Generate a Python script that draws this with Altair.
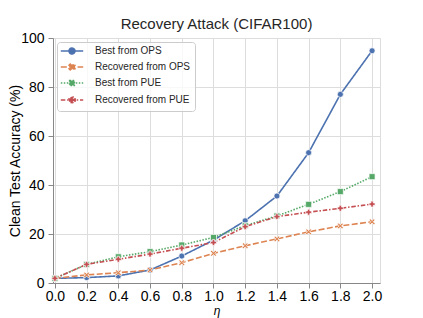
import altair as alt
import pandas as pd

eta = [0.0, 0.2, 0.4, 0.6, 0.8, 1.0, 1.2, 1.4, 1.6, 1.8, 2.0]
best_ops = [1.9, 2.2, 2.9, 5.3, 11.0, 17.5, 25.4, 35.5, 53.2, 77.0, 94.8]
rec_ops = [1.9, 3.3, 4.2, 5.3, 8.3, 12.1, 15.2, 18.0, 20.9, 23.3, 25.0]
best_pue = [1.9, 7.6, 10.7, 12.8, 15.5, 18.6, 23.4, 27.4, 32.1, 37.3, 43.4]
rec_pue = [1.9, 7.6, 9.7, 11.8, 14.2, 16.5, 23.0, 27.1, 28.9, 30.5, 32.2]

series = ["Best from OPS", "Recovered from OPS", "Best from PUE", "Recovered from PUE"]
values = [best_ops, rec_ops, best_pue, rec_pue]
colors = ["#4C72B0", "#DD8452", "#55A868", "#C44E52"]
dashes = [[1, 0], [6, 2.4], [1.5, 1.5], [4.5, 1.8, 1.5, 1.8]]
shapes = [
    "circle",
    "M-1,-0.6L-0.6,-1L0,-0.4L0.6,-1L1,-0.6L0.4,0L1,0.6L0.6,1L0,0.4L-0.6,1L-1,0.6L-0.4,0Z",
    "square",
    "cross",
]
# legend symbols: line segment + marker
seg = "M-2.8,0H2.8"
legend_shapes = [
    seg + "M-0.75,0A0.75,0.75,0,1,0,0.75,0A0.75,0.75,0,1,0,-0.75,0Z",
    seg + "M-0.75,-0.45L-0.45,-0.75L0,-0.3L0.45,-0.75L0.75,-0.45L0.3,0L0.75,0.45L0.45,0.75L0,0.3L-0.45,0.75L-0.75,0.45L-0.3,0Z",
    seg + "M-0.6,-0.6H0.6V0.6H-0.6Z",
    seg + "M-0.8,-0.22H-0.22V-0.8H0.22V-0.22H0.8V0.22H0.22V0.8H-0.22V0.22H-0.8Z",
]

rows = []
for s, vals in zip(series, values):
    for e, v in zip(eta, vals):
        rows.append({"eta": e, "acc": v, "series": s})
df = pd.DataFrame(rows)

FONT = "Liberation Sans"
TXT = "#262626"

x = alt.X("eta:Q", title="η",
          scale=alt.Scale(domain=[-0.012, 2.05], nice=False, zero=False),
          axis=alt.Axis(values=eta, format=".1f", labelFontSize=14, labelPadding=1,
                        titleFontSize=12, titleFontStyle="italic", titleFontWeight="normal",
                        titleBaseline="alphabetic", titleY=31, labelFlush=False))
y = alt.Y("acc:Q", title="Clean Test Accuracy (%)",
          scale=alt.Scale(domain=[0, 100], nice=False),
          axis=alt.Axis(values=[0, 20, 40, 60, 80, 100], labelFontSize=14, labelPadding=4,
                        titleFontSize=14, titleFontWeight="normal",
                        titleX=-38, titleBaseline="middle",
                        labelFlush=False))

base = alt.Chart(df)

lines = base.mark_line(strokeWidth=1.6).encode(
    x=x, y=y,
    color=alt.Color("series:N", scale=alt.Scale(domain=series, range=colors), legend=None),
    strokeDash=alt.StrokeDash("series:N", scale=alt.Scale(domain=series, range=dashes), legend=None),
    order=alt.Order("eta:Q"),
)

points = base.mark_point(filled=True, size=36, stroke="white", strokeWidth=0.7, opacity=1).encode(
    x=x, y=y,
    color=alt.Color("series:N", scale=alt.Scale(domain=series, range=colors), legend=None),
    shape=alt.Shape("series:N", scale=alt.Scale(domain=series, range=shapes), legend=None),
)

leg = alt.Legend(title=None, orient="top-left", offset=4, padding=4,
                 labelFontSize=10, labelFont=FONT, labelColor=TXT,
                 symbolSize=64, symbolStrokeWidth=1.5, symbolOffset=6, labelOffset=18,
                 rowPadding=4, fillColor="rgba(255,255,255,0.8)", strokeColor="#cccccc",
                 cornerRadius=3, symbolOpacity=1)

legend_layer = base.transform_filter("false").mark_point(filled=True, size=36).encode(
    x=x, y=y,
    fill=alt.Fill("series:N", scale=alt.Scale(domain=series, range=colors), legend=leg),
    stroke=alt.Stroke("series:N", scale=alt.Scale(domain=series, range=colors), legend=leg),
    shape=alt.Shape("series:N", scale=alt.Scale(domain=series, range=legend_shapes), legend=leg),
    strokeDash=alt.StrokeDash("series:N", scale=alt.Scale(domain=series, range=dashes), legend=leg),
)

chart = alt.layer(lines, points, legend_layer).resolve_scale(
    fill="independent", stroke="independent", shape="independent", strokeDash="independent"
).properties(
    width=327, height=245,
    title=alt.Title("Recovery Attack (CIFAR100)", fontSize=15, fontWeight="normal",
                    font=FONT, color=TXT, offset=4, frame="group", dy=5),
    autosize=alt.AutoSizeParams(type="none"),
    padding={"left": 45, "top": 30, "right": 20, "bottom": 35},
).configure_view(
    fill="#EAEAF2", stroke=None
).configure_axis(
    grid=True, gridColor="white", gridWidth=1.3, domain=False, ticks=False,
    labelFont=FONT, titleFont=FONT, labelColor=TXT, titleColor=TXT,
).configure(background="white")

chart.save("out.html", embed_options={"renderer": "svg", "actions": False})
